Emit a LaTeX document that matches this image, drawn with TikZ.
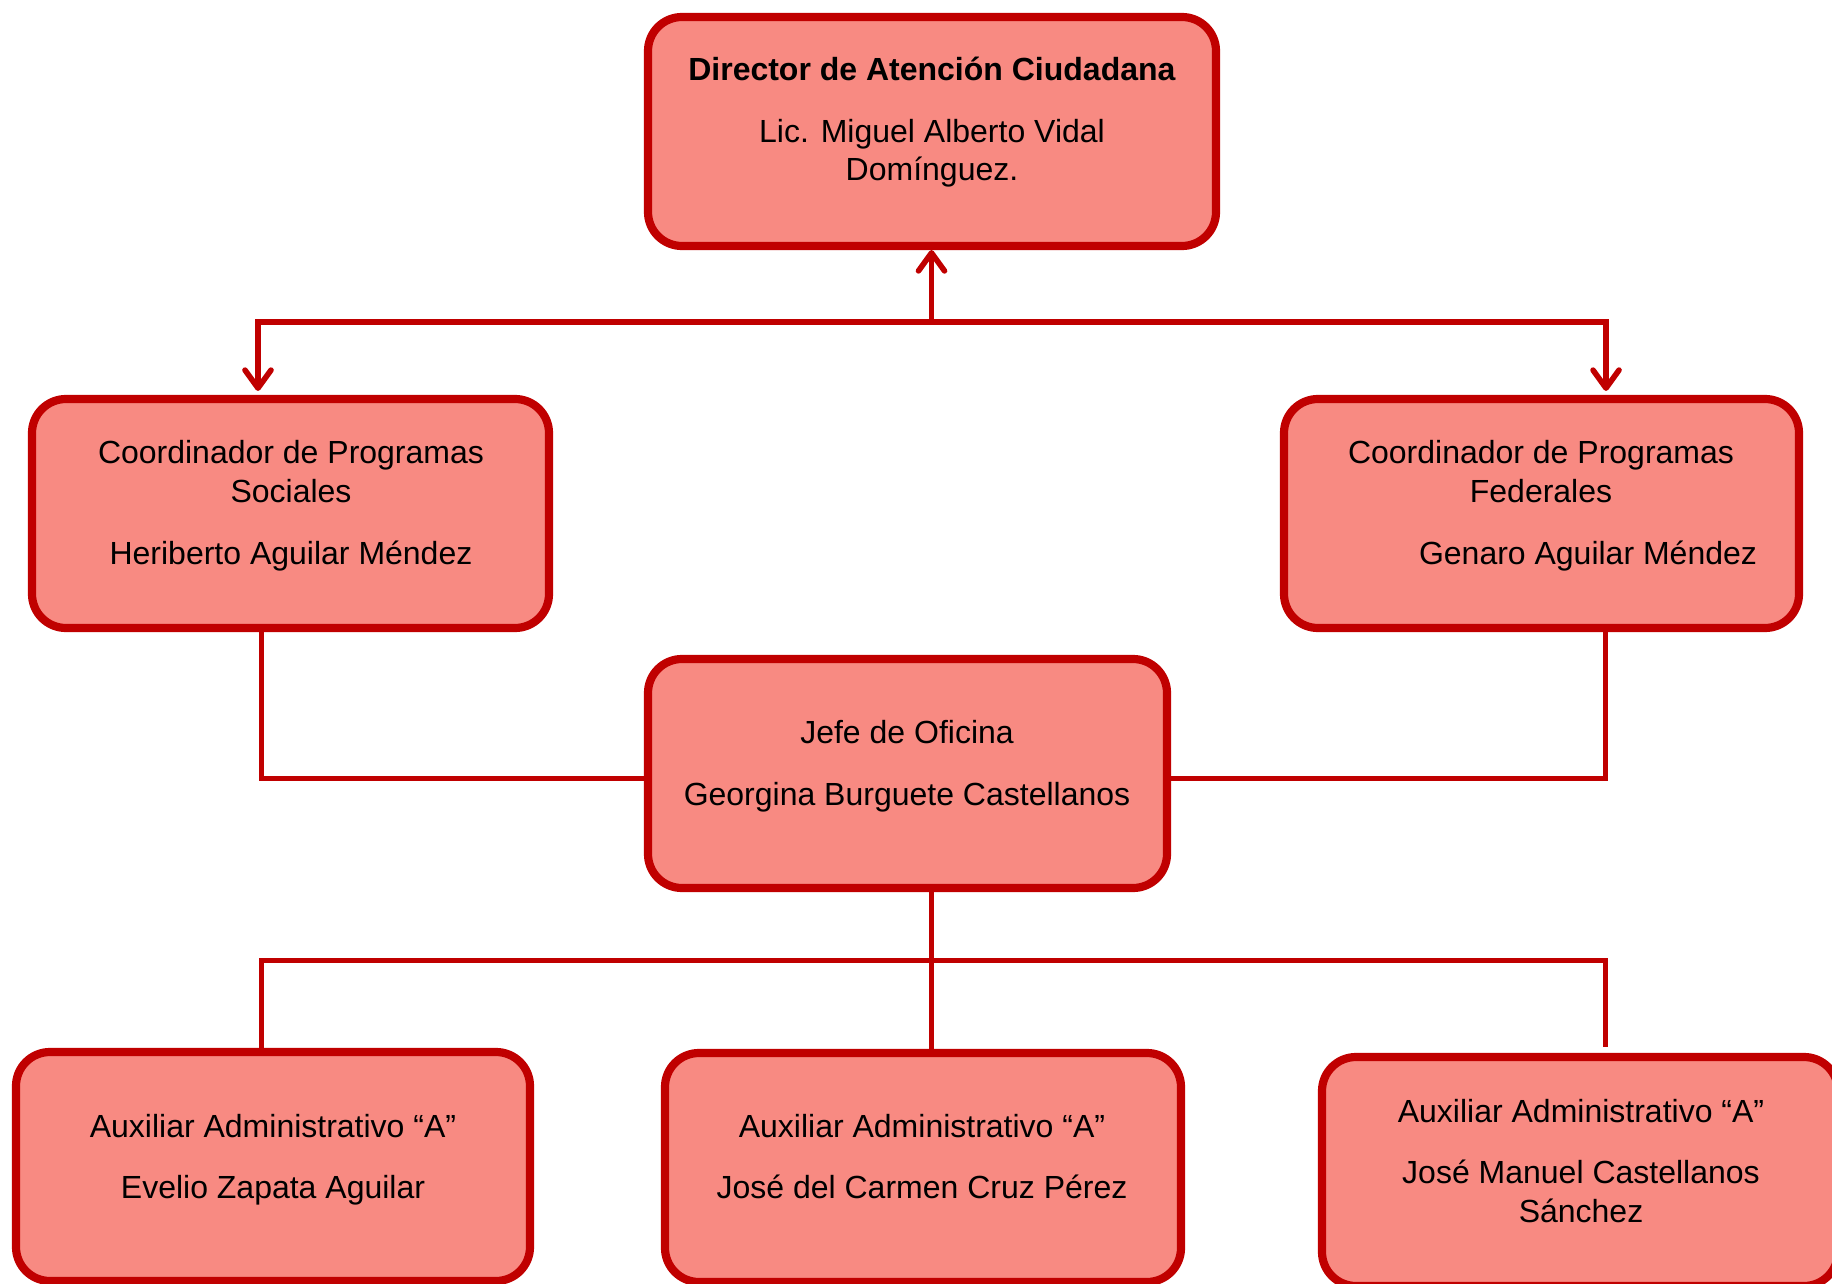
\documentclass[tikz,border=0pt]{standalone}
\usepackage{fontspec}
\setmainfont{Liberation Sans}
\usetikzlibrary{arrows.meta}
\definecolor{boxfill}{RGB}{248,138,130}
\definecolor{boxline}{RGB}{192,0,0}
\tikzset{
  orgbox/.style={draw=boxline, fill=boxfill, line width=4.1pt, rectangle,
    rounded corners=17pt, minimum height=114.5pt, inner sep=0pt},
  conn/.style={draw=boxline, line width=2.8pt},
  arr/.style={-{Straight Barb[length=9pt,width=13pt,round]}},
  txt/.style={inner sep=0pt, anchor=base, text=black,
    font=\fontsize{16pt}{19.3pt}\selectfont}
}
\begin{document}
\begin{tikzpicture}[x=0.5pt,y=-0.5pt]
\useasboundingbox (0,0) rectangle (1832,1284);
% boxes
\node[orgbox, minimum width=284pt] (d) at (932,131.5) {};
\node[orgbox, minimum width=258.5pt] (c1) at (290.5,513.5) {};
\node[orgbox, minimum width=257.5pt] (c2) at (1541.5,513.5) {};
\node[orgbox, minimum width=259.5pt] (j) at (907.5,773.5) {};
\node[orgbox, minimum width=257pt] (a1) at (273,1166.5) {};
\node[orgbox, minimum width=258pt] (a2) at (923,1167.5) {};
\node[orgbox, minimum width=258pt] (a3) at (1580,1171.5) {};
% texts
\node[txt] (d1) at (932,81) {\textbf{Director de Atención Ciudadana}};
\node[txt] (d2) at (932,142) {Lic. Miguel Alberto Vidal};
\node[txt] (d3) at (932,181) {Domínguez.};
\node[txt] (c11) at (291,463) {Coordinador de Programas};
\node[txt] (c12) at (291,502) {Sociales};
\node[txt] (c13) at (291,564) {Heriberto Aguilar Méndez};
\node[txt] (c21) at (1541,463) {Coordinador de Programas};
\node[txt] (c22) at (1541,502) {Federales};
\node[txt] (c23) at (1588,564) {Genaro Aguilar Méndez};
\node[txt] (j1) at (907,743) {Jefe de Oficina};
\node[txt] (j2) at (907,805) {Georgina Burguete Castellanos};
\node[txt] (a11) at (273,1137) {Auxiliar Administrativo “A”};
\node[txt] (a12) at (273,1198) {Evelio Zapata Aguilar};
\node[txt] (a21) at (922,1137) {Auxiliar Administrativo “A”};
\node[txt] (a22) at (922,1198) {José del Carmen Cruz Pérez};
\node[txt] (a31) at (1581,1122) {Auxiliar Administrativo “A”};
\node[txt] (a32) at (1581,1183) {José Manuel Castellanos};
\node[txt] (a33) at (1581,1222) {Sánchez};
% connectors
\coordinate (jt) at (931.5,322);
\coordinate (tl) at (258,322);
\coordinate (tr) at (1606,322);
\draw[conn,arr] (jt) -- (jt |- d.south);
\draw[conn,arr,shorten >=2pt] (jt) -- (tl) -- (tl |- c1.north);
\draw[conn,arr,shorten >=2pt] (jt) -- (tr) -- (tr |- c2.north);
\coordinate (ml) at (261.5,778.5);
\coordinate (mr) at (1605.5,778.5);
\draw[conn] (c1.south -| ml) -- (ml) -- (ml -| j.west);
\draw[conn] (c2.south -| mr) -- (mr) -- (mr -| j.east);
\coordinate (jb) at (931.5,960.5);
\coordinate (bl) at (261.5,960.5);
\coordinate (br) at (1605.5,960.5);
\coordinate (brend) at (1605.5,1047);
\draw[conn] (j.south -| jb) -- (jb |- a2.north);
\draw[conn] (bl |- a1.north) -- (bl) -- (br) -- (brend);
\end{tikzpicture}
\end{document}
